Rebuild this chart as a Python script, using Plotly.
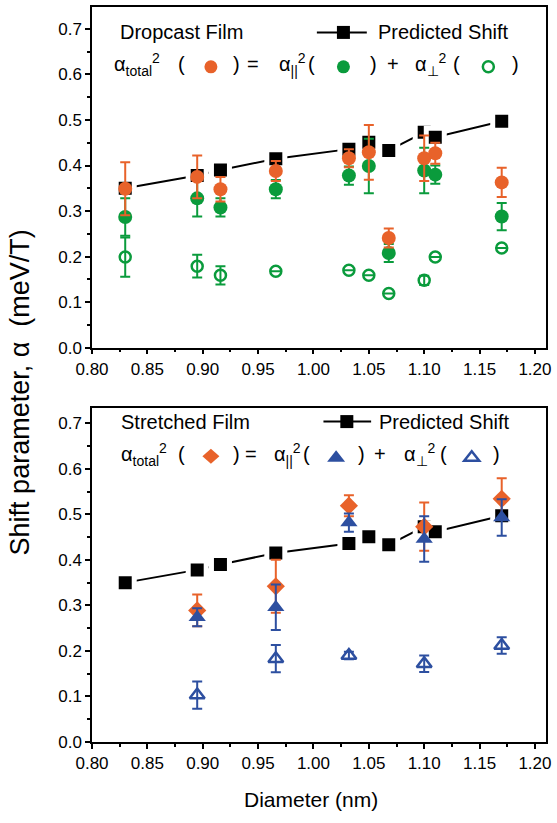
import plotly.graph_objects as go

# ---------------- data ----------------
diam_all = [0.83, 0.895, 0.916, 0.966, 1.032, 1.05, 1.068, 1.10, 1.11, 1.17]
pred_shift = [0.350, 0.378, 0.390, 0.415, 0.436, 0.451, 0.433, 0.473, 0.462, 0.497]

# dropcast film
drop_total = [0.349, 0.375, 0.348, 0.388, 0.416, 0.429, 0.241, 0.416, 0.427, 0.363]
drop_total_err = [0.058, 0.047, 0.027, 0.022, 0.020, 0.060, 0.021, 0.050, 0.023, 0.032]
drop_par = [0.287, 0.328, 0.308, 0.348, 0.378, 0.399, 0.208, 0.389, 0.380, 0.288]
drop_par_err = [0.041, 0.040, 0.020, 0.020, 0.020, 0.060, 0.020, 0.050, 0.020, 0.030]
drop_perp = [0.199, 0.179, 0.159, 0.168, 0.170, 0.159, 0.119, 0.148, 0.199, 0.219]
drop_perp_err = [0.043, 0.025, 0.020, None, None, None, None, 0.010, None, None]

# stretched film
diam_str = [0.895, 0.966, 1.032, 1.10, 1.17]
str_total = [0.289, 0.342, 0.519, 0.473, 0.534]
str_total_err = [0.035, 0.058, 0.023, 0.053, 0.045]
str_par = [0.274, 0.296, 0.482, 0.446, 0.493]
str_par_err = [0.020, 0.050, 0.020, 0.050, 0.040]
str_perp = [0.103, 0.183, 0.190, 0.172, 0.212]
str_perp_err = [0.030, 0.030, 0.008, 0.018, 0.018]

x_ticks = [0.80, 0.85, 0.90, 0.95, 1.00, 1.05, 1.10, 1.15, 1.20]
y_ticks = [0.0, 0.1, 0.2, 0.3, 0.4, 0.5, 0.6, 0.7]

ORANGE = "#E8622A"
GREEN = "#0A9B3C"
BLUE = "#2D4FA0"
FONT = "Liberation Sans, Arial, sans-serif"

fig = go.Figure()


def err(arr, color):
    return dict(type="data", array=arr, color=color, thickness=2, width=5, visible=True)


def predicted(xa, ya):
    return go.Scatter(
        x=diam_all, y=pred_shift, xaxis=xa, yaxis=ya, mode="lines+markers",
        line=dict(color="black", width=2),
        marker=dict(symbol="square", size=18, color="black",
                    line=dict(color="white", width=5)),
        showlegend=False, hoverinfo="x+y",
    )


# top panel: dropcast film
fig.add_trace(predicted("x", "y"))
fig.add_trace(go.Scatter(
    x=diam_all, y=drop_perp, xaxis="x", yaxis="y", mode="markers",
    error_y=err(drop_perp_err, GREEN),
    marker=dict(symbol="circle-open", size=11, color=GREEN, line=dict(width=2.5, color=GREEN)),
    showlegend=False))
fig.add_trace(go.Scatter(
    x=diam_all, y=drop_par, xaxis="x", yaxis="y", mode="markers",
    error_y=err(drop_par_err, GREEN),
    marker=dict(symbol="circle", size=14, color=GREEN),
    showlegend=False))
fig.add_trace(go.Scatter(
    x=diam_all, y=drop_total, xaxis="x", yaxis="y", mode="markers",
    error_y=err(drop_total_err, ORANGE),
    marker=dict(symbol="circle", size=14, color=ORANGE),
    showlegend=False))

# bottom panel: stretched film
fig.add_trace(predicted("x2", "y2"))
fig.add_trace(go.Scatter(
    x=diam_str, y=str_perp, xaxis="x2", yaxis="y2", mode="markers",
    error_y=err(str_perp_err, BLUE),
    marker=dict(symbol="triangle-up-open", size=13, color=BLUE, line=dict(width=2.5, color=BLUE)),
    showlegend=False))
fig.add_trace(go.Scatter(
    x=diam_str, y=str_total, xaxis="x2", yaxis="y2", mode="markers",
    error_y=err(str_total_err, ORANGE),
    marker=dict(symbol="diamond", size=14, color=ORANGE),
    showlegend=False))
fig.add_trace(go.Scatter(
    x=diam_str, y=str_par, xaxis="x2", yaxis="y2", mode="markers",
    error_y=err(str_par_err, BLUE),
    marker=dict(symbol="triangle-up", size=15, color=BLUE),
    showlegend=False))

xaxis_style = dict(
    range=[0.80, 1.21], tickmode="array", tickvals=x_ticks,
    ticktext=[f"{v:.2f}" for v in x_ticks],
    ticks="outside", ticklen=5, tickwidth=1.5, tickcolor="black",
    minor=dict(ticks="outside", ticklen=3, tickwidth=1.5, tickcolor="black", dtick=0.025, tick0=0.8),
    showline=True, linecolor="black", linewidth=1.5, mirror=True,
    showgrid=False, zeroline=False,
    tickfont=dict(family=FONT, size=17, color="black"),
)
yaxis_style = dict(
    tickmode="array", tickvals=y_ticks, ticktext=[f"{v:.1f}" for v in y_ticks],
    ticks="outside", ticklen=5, tickwidth=1.5, tickcolor="black",
    minor=dict(ticks="outside", ticklen=3, tickwidth=1.5, tickcolor="black", dtick=0.05, tick0=0),
    showline=True, linecolor="black", linewidth=1.5, mirror=True,
    showgrid=False, zeroline=False,
    tickfont=dict(family=FONT, size=17, color="black"),
)

fig.update_layout(
    width=557, height=823,
    margin=dict(l=92, r=11, t=5, b=81),
    paper_bgcolor="white", plot_bgcolor="white",
    xaxis=dict(xaxis_style, domain=[0, 1], anchor="y"),
    yaxis=dict(yaxis_style, domain=[0.5364, 1], range=[0, 0.748], anchor="x"),
    xaxis2=dict(xaxis_style, domain=[0, 1], anchor="y2"),
    yaxis2=dict(yaxis_style, domain=[0, 0.4541], range=[0, 0.733], anchor="x2"),
    showlegend=False,
)

annotations = []
shapes = []

# legend glyph outlines, in pixels around their anchor point
GLYPH_PATHS = {
    "diamond": "M -8.5,0 L 0,7.5 L 8.5,0 L 0,-7.5 Z",
    "triangle": "M -9,-5.5 L 9,-5.5 L 0,6 Z",
    "triangle-open": "M -7.5,-4.5 L 7.5,-4.5 L 0,5 Z",
}


def glyph(kind, x, y, xr, yr, color):
    is_open = kind.endswith("open")
    common = dict(xref=xr, yref=yr, xsizemode="pixel", ysizemode="pixel",
                  xanchor=x, yanchor=y,
                  fillcolor="rgba(0,0,0,0)" if is_open else color,
                  line=dict(color=color, width=2.5 if is_open else 0))
    if kind.startswith("circle"):
        r = 5.5 if is_open else 6.5
        shapes.append(dict(common, type="circle", x0=-r, x1=r, y0=-r, y1=r))
    else:
        shapes.append(dict(common, type="path", path=GLYPH_PATHS[kind]))


def txt(text, x, y, xr, yr, anchor="center", size=20, color="black"):
    annotations.append(dict(
        text=text, x=x, y=y, xref=xr, yref=yr, xanchor=anchor, yanchor="middle",
        showarrow=False, font=dict(family=FONT, size=size, color=color)))


def legend_rows(xr, yr, title, title_x, row1_y, icon, row2_y, glyph_y, items):
    txt(title, title_x, row1_y, xr, yr, anchor="left")
    lx0, lsq, lx1, ltxt = icon
    shapes.append(dict(type="line", xref=xr, yref=yr, x0=lx0, x1=lx1, y0=row1_y, y1=row1_y,
                       line=dict(color="black", width=2)))
    shapes.append(dict(type="rect", xref=xr, yref=yr, xsizemode="pixel", ysizemode="pixel",
                       xanchor=lsq, yanchor=row1_y, x0=-6.5, x1=6.5, y0=-6.5, y1=6.5,
                       fillcolor="black", line=dict(width=0)))
    txt("Predicted Shift", ltxt, row1_y, xr, yr, anchor="left")
    for kind, content, x, anchor, color in items:
        if kind == "text":
            txt(content, x, row2_y, xr, yr, anchor=anchor, color=color)
        else:
            glyph(content, x, glyph_y, xr, yr, color)


# top legend
legend_rows(
    "x domain", "y domain", "Dropcast Film", 0.0563, 0.9254,
    (0.4953, 0.5538, 0.6053, 0.6258), 0.832, 0.8244,
    [
        ("text", "α<sub>total</sub><sup>2</sup>", 0.0440, "left", "black"),
        ("text", "(", 0.1981, "center", "black"),
        ("glyph", "circle", 0.2619, "center", ORANGE),
        ("text", ")", 0.3192, "center", "black"),
        ("text", "=", 0.3557, "center", "black"),
        ("text", "α<sub>||</sub><sup>2</sup>", 0.4079, "left", "black"),
        ("text", "(", 0.4843, "center", "black"),
        ("glyph", "circle", 0.5538, "center", GREEN),
        ("text", ")", 0.6198, "center", "black"),
        ("text", "+", 0.6626, "center", "black"),
        ("text", "α<sub>⊥</sub><sup>2</sup>", 0.7072, "left", "black"),
        ("text", "(", 0.8019, "center", "black"),
        ("glyph", "circle-open", 0.8730, "center", GREEN),
        ("text", ")", 0.9318, "center", "black"),
    ])

# bottom legend
legend_rows(
    "x2 domain", "y2 domain", "Stretched Film", 0.0586, 0.960,
    (0.5098, 0.5613, 0.6148, 0.6287), 0.862, 0.856,
    [
        ("text", "α<sub>total</sub><sup>2</sup>", 0.0586, "left", "black"),
        ("text", "(", 0.1981, "center", "black"),
        ("glyph", "diamond", 0.2619, "center", ORANGE),
        ("text", ")", 0.3192, "center", "black"),
        ("text", "=", 0.3500, "center", "black"),
        ("text", "α<sub>||</sub><sup>2</sup>", 0.3962, "left", "black"),
        ("text", "(", 0.4733, "center", "black"),
        ("glyph", "triangle", 0.5377, "center", BLUE),
        ("text", ")", 0.5943, "center", "black"),
        ("text", "+", 0.6346, "center", "black"),
        ("text", "α<sub>⊥</sub><sup>2</sup>", 0.6824, "left", "black"),
        ("text", "(", 0.7739, "center", "black"),
        ("glyph", "triangle-open", 0.8364, "center", BLUE),
        ("text", ")", 0.8915, "center", "black"),
    ])

# axis titles
annotations.append(dict(
    text="Shift parameter, α\u00a0\u00a0(meV/T)", x=-0.158, y=0.476, xref="paper", yref="paper",
    xanchor="center", yanchor="middle", textangle=-90, showarrow=False,
    font=dict(family=FONT, size=27, color="black")))
annotations.append(dict(
    text="Diameter (nm)", x=0.482, y=-0.0787, xref="paper", yref="paper",
    xanchor="center", yanchor="middle", showarrow=False,
    font=dict(family=FONT, size=21, color="black")))

fig.update_layout(annotations=annotations, shapes=shapes)

fig.write_html("out.html")
